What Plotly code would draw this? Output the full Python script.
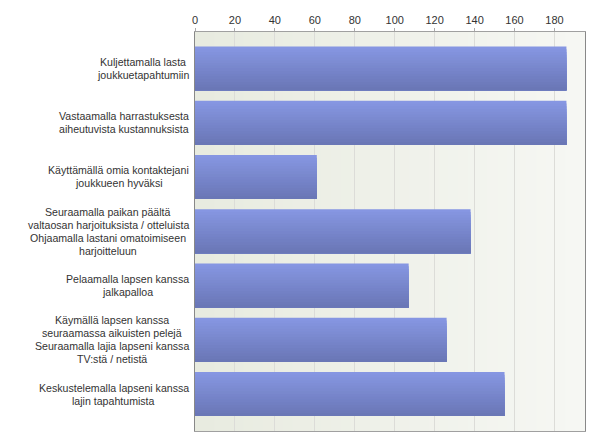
import plotly.graph_objects as go

labels = [
    "Kuljettamalla lasta<br>joukkuetapahtumiin",
    "Vastaamalla harrastuksesta<br>aiheutuvista kustannuksista",
    "Käyttämällä omia kontaktejani<br>joukkueen hyväksi",
    "Seuraamalla paikan päältä<br>valtaosan harjoituksista / otteluista<br>Ohjaamalla lastani omatoimiseen<br>harjoitteluun",
    "Pelaamalla lapsen kanssa<br>jalkapalloa",
    "Käymällä lapsen kanssa<br>seuraamassa aikuisten pelejä<br>Seuraamalla lajia lapseni kanssa<br>TV:stä / netistä",
    "Keskustelemalla lapseni kanssa<br>lajin tapahtumista",
]
values = [186, 186, 61, 138, 107, 126, 155]
tick_vals = [0, 20, 40, 60, 80, 100, 120, 140, 160, 180]

positions = list(range(len(values)))

FONT = "Arial"
LABEL_SIZE = 10.6
LINE_H = 13

fig = go.Figure()

# bars drawn as overlapping layers to imitate the vertical gradient:
# each layer starts lower and reaches the bar bottom, later layers on top
BAR_W = 0.81
N_SLICES = 16
top_c = (134, 150, 226)
bot_c = (106, 119, 182)
step = BAR_W / N_SLICES
for k in range(N_SLICES):
    t = k / (N_SLICES - 1)
    c = tuple(round(top_c[j] + (bot_c[j] - top_c[j]) * t) for j in range(3))
    fig.add_trace(go.Bar(
        x=values, y=positions, orientation="h",
        width=BAR_W - k * step,
        offset=-BAR_W / 2 + k * step,
        marker=dict(color="rgb(%d,%d,%d)" % c, line=dict(width=0)),
        hoverinfo="skip",
    ))

# background gradient strips (styling only)
shapes = []
N = 40
c0 = (232, 235, 224)
c1 = (246, 247, 243)
for i in range(N):
    t = i / (N - 1)
    c = tuple(round(c0[k] + (c1[k] - c0[k]) * t) for k in range(3))
    shapes.append(dict(type="rect", xref="x domain", yref="y domain",
                       x0=i / N, x1=(i + 1) / N + 0.002, y0=0, y1=1,
                       fillcolor="rgb(%d,%d,%d)" % c, line=dict(width=0),
                       layer="below"))

# approximate Arial advance widths (per 1000 em) to centre multi-line labels
W = {c: 556 for c in "abdeghnopqu0123456789äöå"}
W.update({"c": 500, "k": 500, "s": 500, "v": 500, "x": 500, "y": 500, "z": 500,
          "f": 278, "t": 278, "i": 222, "j": 222, "l": 222, "m": 833, "r": 333,
          "w": 722, " ": 278, "/": 278, ":": 278, "K": 667, "V": 667, "S": 667,
          "P": 667, "O": 778, "T": 611})


def text_w(s):
    return sum(W.get(ch, 600) for ch in s) / 1000 * LABEL_SIZE


annotations = []
for p, lab in zip(positions, labels):
    lines = lab.split("<br>")
    maxw = max(text_w(l) for l in lines)
    n = len(lines)
    for k, line in enumerate(lines):
        annotations.append(dict(
            x=0, xref="paper", y=p, yref="y", text=line, showarrow=False,
            xanchor="center", yanchor="middle",
            xshift=-(6 + maxw / 2), yshift=((n - 1) / 2 - k) * LINE_H,
            font=dict(family=FONT, size=LABEL_SIZE, color="#333333")))

fig.update_layout(
    width=600, height=446,
    margin=dict(l=195, r=15, t=32, b=15),
    paper_bgcolor="white", plot_bgcolor="#f0f2ec",
    showlegend=False, barmode="overlay",
    shapes=shapes, annotations=annotations,
    font=dict(family=FONT, size=11, color="#333333"),
    xaxis=dict(side="top", range=[0, 195.3], tickvals=tick_vals,
               ticks="outside", ticklen=3, tickcolor="#aaaaaa",
               showgrid=True, gridcolor="#dcdcd8", gridwidth=1,
               showline=True, linecolor="#a0a0a0", linewidth=1, mirror=True,
               zeroline=False, fixedrange=True,
               tickfont=dict(family=FONT, size=11, color="#333333")),
    yaxis=dict(range=[6.68, -0.67], showticklabels=False, showgrid=False,
               zeroline=False, ticks="", showline=True, linecolor="#888888",
               linewidth=1, mirror=True, fixedrange=True),
)

fig.write_html("out.html")
